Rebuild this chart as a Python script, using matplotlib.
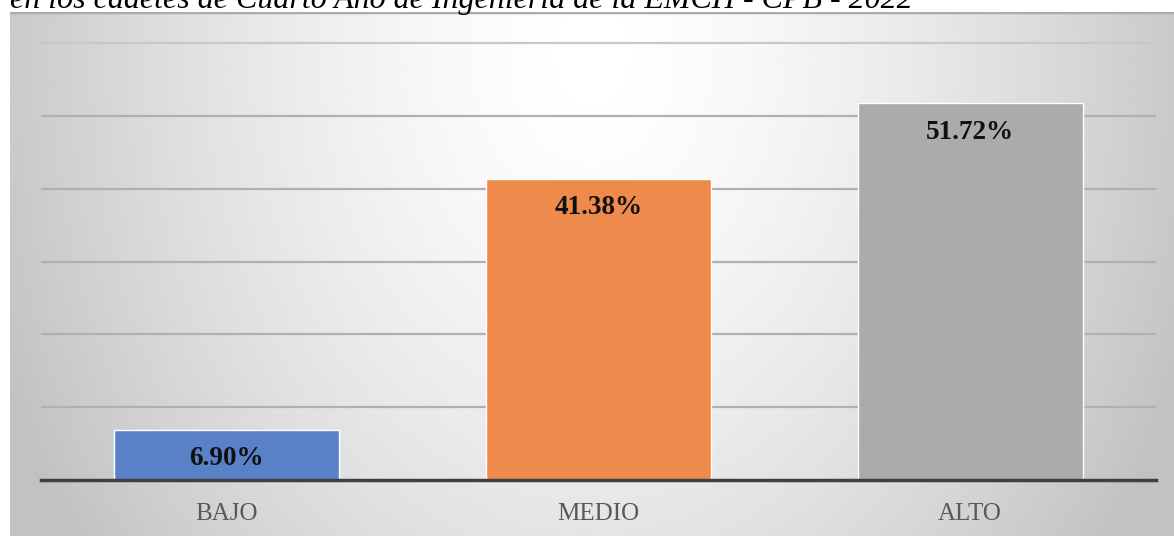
import matplotlib.pyplot as plt
import numpy as np

# Nivel alcanzado por los cadetes
categorias = ['BAJO', 'MEDIO', 'ALTO']
porcentajes = [6.90, 41.38, 51.72]
colores = ['#5A80C8', '#EE8A4B', '#ABABAB']

W, H = 1174, 536
fig = plt.figure(figsize=(W / 100, H / 100), dpi=100, facecolor='white')

serif = ['Liberation Serif', 'DejaVu Serif']

# Title line (top of it runs past the figure edge)
fig.text(10 / W, 1 - 8 / H,
         'en los cadetes de Cuarto Año de Ingeniería de la EMCH - CPB - 2022',
         family=serif, style='italic', fontsize=23, color='black',
         ha='left', va='baseline')

# Chart area with gray gradient, lightest at top centre
bg = fig.add_axes([10 / W, 0, (W - 10) / W, (H - 12) / H])
gx, gy = np.meshgrid(np.linspace(0, 1, 400), np.linspace(0, 1, 200))
r = np.sqrt(((gx - 0.5) / 0.55) ** 2 + ((gy - 0.08) / 1.6) ** 2)
r = np.clip(r, 0, 1)
shade = 1.0 - 0.24 * r ** 1.5
bg.imshow(shade, cmap='gray', vmin=0, vmax=1, aspect='auto',
          extent=[0, 1, 0, 1], origin='upper', interpolation='bilinear')
bg.axhline(1, color='#ABABAB', lw=2.5)
bg.set_xlim(0, 1)
bg.set_ylim(0, 1)
bg.axis('off')

ax = fig.add_axes([41 / W, 56 / H, (1156 - 41) / W, (480 - 43) / H])
ax.patch.set_alpha(0)
x = np.arange(len(categorias))
ax.bar(x, porcentajes, width=0.605, color=colores, edgecolor='white',
       linewidth=1.0, zorder=3)

ax.set_xlim(-0.5, len(categorias) - 0.5)
ax.set_ylim(0, 60)
ax.set_yticks(np.arange(10, 61, 10))
ax.yaxis.grid(True, color='#B0B0B0', lw=1.6, zorder=1)
ax.get_ygridlines()[-1].set_clip_on(False)
ax.get_ygridlines()[-1].set_color('#C8C8C8')
ax.tick_params(axis='y', left=False, labelleft=False)
ax.tick_params(axis='x', bottom=False, pad=13)
ax.set_xticks(x)
ax.set_xticklabels(categorias, family=serif, fontsize=18, color='#595959')
for s in ['top', 'right', 'left']:
    ax.spines[s].set_visible(False)
ax.spines['bottom'].set_color('#404040')
ax.spines['bottom'].set_linewidth(2.5)
ax.spines['bottom'].set_zorder(4)

for xi, v in zip(x, porcentajes):
    ax.annotate(f'{v:.2f}%', xy=(xi, v), xytext=(0, -21),
                textcoords='offset points', ha='center', va='center',
                family=serif, fontweight='bold', fontsize=19.5,
                color='#111111', zorder=5)

fig.savefig('out.png', dpi=100, facecolor='white')
